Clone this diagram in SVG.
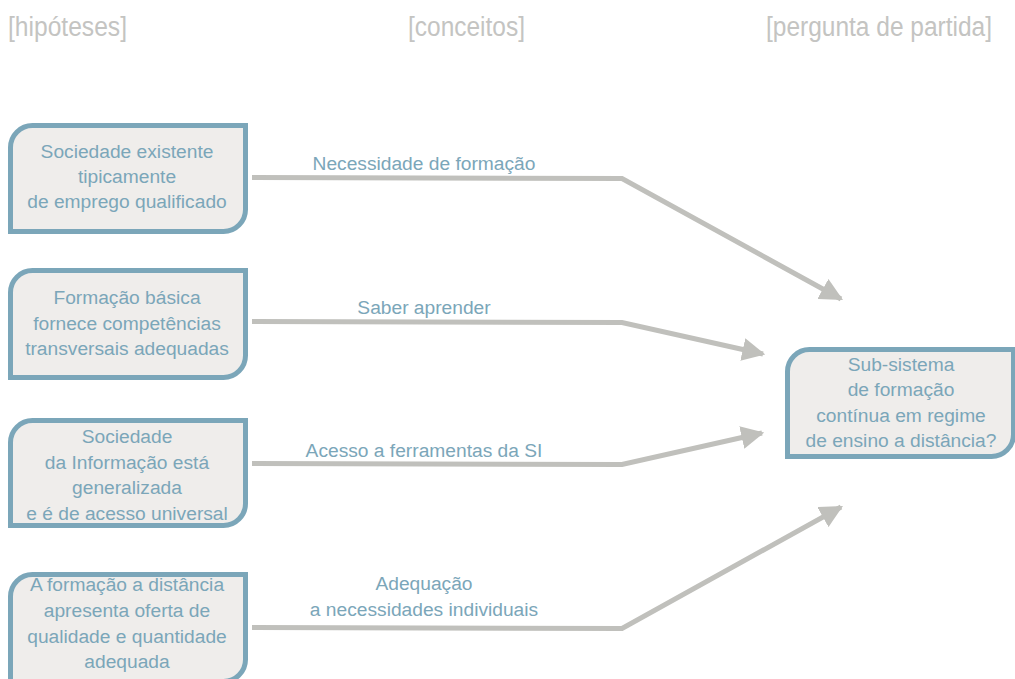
<svg xmlns="http://www.w3.org/2000/svg" width="1015" height="679" viewBox="0 0 1015 679">
<defs>
<style>
.node{fill:#efedeb;stroke:#7ba6b9;stroke-width:5}
.nt{font-family:"Liberation Sans",Arial,sans-serif;font-size:19.2px;fill:#7ba6b9;text-anchor:middle}
.hd{font-family:"Liberation Sans",Arial,sans-serif;font-size:27px;fill:#c4c4c2}
.conn{fill:none;stroke:#c0c0bc;stroke-width:5;stroke-linejoin:miter}
</style>
<marker id="ah" viewBox="0 0 10 10" refX="9" refY="5" markerWidth="4.6" markerHeight="4.6" orient="auto" markerUnits="strokeWidth">
<path d="M0,0 L10,5 L0,10 z" fill="#c0c0bc"/>
</marker>
</defs>
<rect width="1015" height="679" fill="#ffffff"/>
<g id="headers">
<text class="hd" x="8" y="36" textLength="119" lengthAdjust="spacingAndGlyphs">[hipóteses]</text>
<text class="hd" x="408" y="36" textLength="117" lengthAdjust="spacingAndGlyphs">[conceitos]</text>
<text class="hd" x="766" y="36" textLength="226" lengthAdjust="spacingAndGlyphs">[pergunta de partida]</text>
</g>
<g id="connectors">
<path class="conn" d="M252,177.5 L622,178.5 L841,299" marker-end="url(#ah)"/>
<path class="conn" d="M252,321.5 L622,322.5 L763,354" marker-end="url(#ah)"/>
<path class="conn" d="M252,463.5 L622,464.5 L762,433" marker-end="url(#ah)"/>
<path class="conn" d="M252,627.5 L622,628.5 L841,507" marker-end="url(#ah)"/>
<text class="nt" x="424" y="170">Necessidade de formação</text>
<text class="nt" x="424" y="314">Saber aprender</text>
<text class="nt" x="424" y="457">Acesso a ferramentas da SI</text>
<text class="nt" x="424" y="590">Adequação</text>
<text class="nt" x="424" y="616">a necessidades individuais</text>
</g>
<g id="node1">
<path class="node" d="M32.5,125.5 H245.5 V209.5 A22,22 0 0 1 223.5,231.5 H10.5 V147.5 A22,22 0 0 1 32.5,125.5 Z"/>
<text class="nt" x="127" y="158">Sociedade existente</text>
<text class="nt" x="127" y="183">tipicamente</text>
<text class="nt" x="127" y="208">de emprego qualificado</text>
</g>
<g id="node2">
<path class="node" d="M32.5,270.5 H245.5 V355.5 A22,22 0 0 1 223.5,377.5 H10.5 V292.5 A22,22 0 0 1 32.5,270.5 Z"/>
<text class="nt" x="127" y="304">Formação básica</text>
<text class="nt" x="127" y="330">fornece competências</text>
<text class="nt" x="127" y="355">transversais adequadas</text>
</g>
<g id="node3">
<path class="node" d="M32.5,420.5 H245.5 V503.5 A22,22 0 0 1 223.5,525.5 H10.5 V442.5 A22,22 0 0 1 32.5,420.5 Z"/>
<text class="nt" x="127" y="443">Sociedade</text>
<text class="nt" x="127" y="469">da Informação está</text>
<text class="nt" x="127" y="494">generalizada</text>
<text class="nt" x="127" y="520">e é de acesso universal</text>
</g>
<g id="node4">
<path class="node" d="M32.5,574.5 H245.5 V659.5 A22,22 0 0 1 223.5,681.5 H10.5 V596.5 A22,22 0 0 1 32.5,574.5 Z"/>
<text class="nt" x="127" y="591">A formação a distância</text>
<text class="nt" x="127" y="617">apresenta oferta de</text>
<text class="nt" x="127" y="643">qualidade e quantidade</text>
<text class="nt" x="127" y="668">adequada</text>
</g>
<g id="node5">
<path class="node" d="M809.5,349.5 H1013.5 V434.5 A22,22 0 0 1 991.5,456.5 H787.5 V371.5 A22,22 0 0 1 809.5,349.5 Z"/>
<text class="nt" x="901" y="371">Sub-sistema</text>
<text class="nt" x="901" y="396">de formação</text>
<text class="nt" x="901" y="422">contínua em regime</text>
<text class="nt" x="901" y="447">de ensino a distância?</text>
</g>
</svg>
